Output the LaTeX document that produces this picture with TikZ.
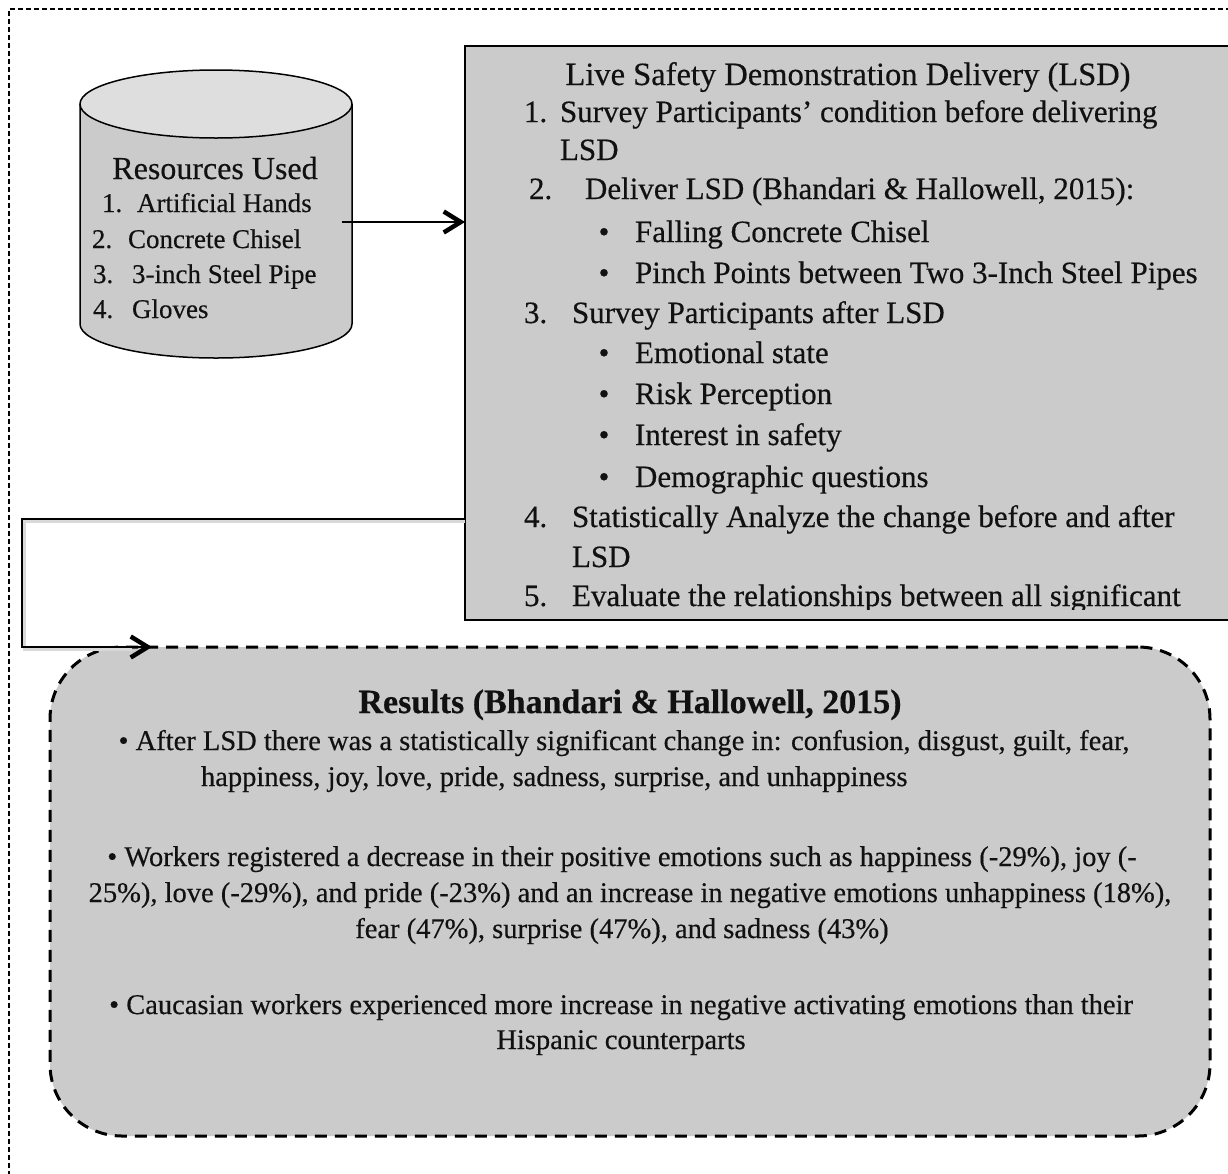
\documentclass[tikz,border=0pt]{standalone}
\usepackage{fontspec}
\setmainfont{Liberation Serif}[FakeBold=0.4]
\usetikzlibrary{arrows.meta,calc}
\definecolor{boxgray}{HTML}{CBCBCB}
\definecolor{topgray}{HTML}{DEDEDE}
\definecolor{txt}{HTML}{111111}
\begin{document}
\begin{tikzpicture}[x=1pt,y=-1pt,
  every node/.style={inner sep=0pt,outer sep=0pt,text=txt},
  frame/.style={line width=1.3pt,dash pattern=on 5pt off 3pt},
  lsdbox/.style={draw,fill=boxgray,line width=1.5pt},
  resbox/.style={draw,fill=boxgray,line width=3pt,dash pattern=on 12pt off 8pt,rounded corners=72pt},
  cylline/.style={line width=1.5pt},
  conn/.style={line width=2pt,-{Straight Barb[length=17pt,width=21pt,line width=4.5pt]}},
  lsdtitle/.style={font=\fontsize{32.5}{38}\selectfont,anchor=base},
  lsdtxt/.style={font=\fontsize{31}{37}\selectfont,anchor=base west},
  lsdbul/.style={font=\fontsize{31}{37}\selectfont,anchor=base},
  cyltitle/.style={font=\fontsize{32}{38}\selectfont,anchor=base},
  cyltxt/.style={font=\fontsize{27}{32}\selectfont,anchor=base west},
  restitle/.style={font=\fontsize{34}{40}\selectfont\bfseries,anchor=base},
  restxt/.style={font=\fontsize{28.5}{34}\selectfont,anchor=base},
  restxtl/.style={font=\fontsize{28.5}{34}\selectfont,anchor=base west}]
\useasboundingbox (0,0) rectangle (1228,1173);
\clip (0,0) rectangle (1228,1173);
% outer dashed frame
\draw[frame] (9,1200) -- (9,9) -- (1260,9);
% cylinder
\node[minimum width=272pt,minimum height=288pt,anchor=north west] (cyl) at (80,70) {};
\filldraw[cylline,fill=boxgray] (80,104) -- (80,324) arc[start angle=180,end angle=360,x radius=136pt,y radius=34pt] -- (352,104);
\filldraw[cylline,fill=topgray] (216,104) ellipse[x radius=136pt,y radius=34pt];
\node[cyltitle] (ct) at (215,179) {Resources Used};
\node[cyltxt] (cn1) at (102,212) {1.};
\node[cyltxt] (c1) at (137,212) {Artificial Hands};
\node[cyltxt] (cn2) at (92,248) {2.};
\node[cyltxt] (c2) at (128,248) {Concrete Chisel};
\node[cyltxt] (cn3) at (93,283) {3.};
\node[cyltxt] (c3) at (132,283) {3-inch Steel Pipe};
\node[cyltxt] (cn4) at (93,318) {4.};
\node[cyltxt] (c4) at (132,318) {Gloves};
% LSD box
\node[lsdbox,minimum width=860pt,minimum height=574pt,anchor=north west] (lsd) at (465,46) {};
\begin{scope}
\clip (465,46) rectangle (1300,609);
\node[lsdtitle] (lt) at (848,85) {Live Safety Demonstration Delivery (LSD)};
\node[lsdtxt] (ln1) at (524,122) {1.};
\node[lsdtxt] (l1) at (560,122) {Survey Participants’ condition before delivering};
\node[lsdtxt] (l1b) at (560,160) {LSD};
\node[lsdtxt] (ln2) at (529,199) {2.};
\node[lsdtxt] (l2) at (585,199) {Deliver LSD (Bhandari \& Hallowell, 2015):};
\node[lsdbul] (b1) at (604,242) {•};
\node[lsdtxt] (l2a) at (635,242) {Falling Concrete Chisel};
\node[lsdbul] (b2) at (604,283) {•};
\node[lsdtxt] (l2b) at (635,283) {Pinch Points between Two 3-Inch Steel Pipes};
\node[lsdtxt] (ln3) at (524,323) {3.};
\node[lsdtxt] (l3) at (572,323) {Survey Participants after LSD};
\node[lsdbul] (b3) at (604,363) {•};
\node[lsdtxt] (l3a) at (635,363) {Emotional state};
\node[lsdbul] (b4) at (604,404) {•};
\node[lsdtxt] (l3b) at (635,404) {Risk Perception};
\node[lsdbul] (b5) at (604,445) {•};
\node[lsdtxt] (l3c) at (635,445) {Interest in safety};
\node[lsdbul] (b6) at (604,487) {•};
\node[lsdtxt] (l3d) at (635,487) {Demographic questions};
\node[lsdtxt] (ln4) at (524,527) {4.};
\node[lsdtxt] (l4) at (572,527) {Statistically Analyze the change before and after};
\node[lsdtxt] (l4b) at (572,567) {LSD};
\node[lsdtxt] (ln5) at (524,606) {5.};
\node[lsdtxt] (l5) at (572,606) {Evaluate the relationships between all significant};
\end{scope}
% results box
\node[resbox,minimum width=1160pt,minimum height=489pt,anchor=north west] (res) at (50,647) {};
\node[restitle] (rt) at (630,713) {Results (Bhandari \& Hallowell, 2015)};
\node[restxt] (r1) at (624,750) {• After LSD there was a statistically significant change in: confusion, disgust, guilt, fear,};
\node[restxtl] (r1b) at (201,786) {happiness, joy, love, pride, sadness, surprise, and unhappiness};
\node[restxt] (r2) at (622,866) {• Workers registered a decrease in their positive emotions such as happiness (-29\%), joy (-};
\node[restxt] (r2b) at (630,902) {25\%), love (-29\%), and pride (-23\%) and an increase in negative emotions unhappiness (18\%),};
\node[restxt] (r2c) at (622,938) {fear (47\%), surprise (47\%), and sadness (43\%)};
\node[restxt] (r3) at (621,1014) {• Caucasian workers experienced more increase in negative activating emotions than their};
\node[restxt] (r3b) at (621,1049) {Hispanic counterparts};
% connectors
\coordinate (a1) at ($(cyl.east)+(-10,8)$);
\draw[conn] (a1) -- (a1 -| lsd.west);
\coordinate (a2) at ($(lsd.south west)+(0,-101)$);
\coordinate (a3) at ($(res.north west)+(102,0)$);
\draw[line width=3pt,black!15] ($(a2)+(0,2.5)$) -- ++(-441,0) |- ($(a3)+(-20,2.5)$);
\draw[conn] (a2) -- ++(-443,0) |- (a3);
\end{tikzpicture}
\end{document}
